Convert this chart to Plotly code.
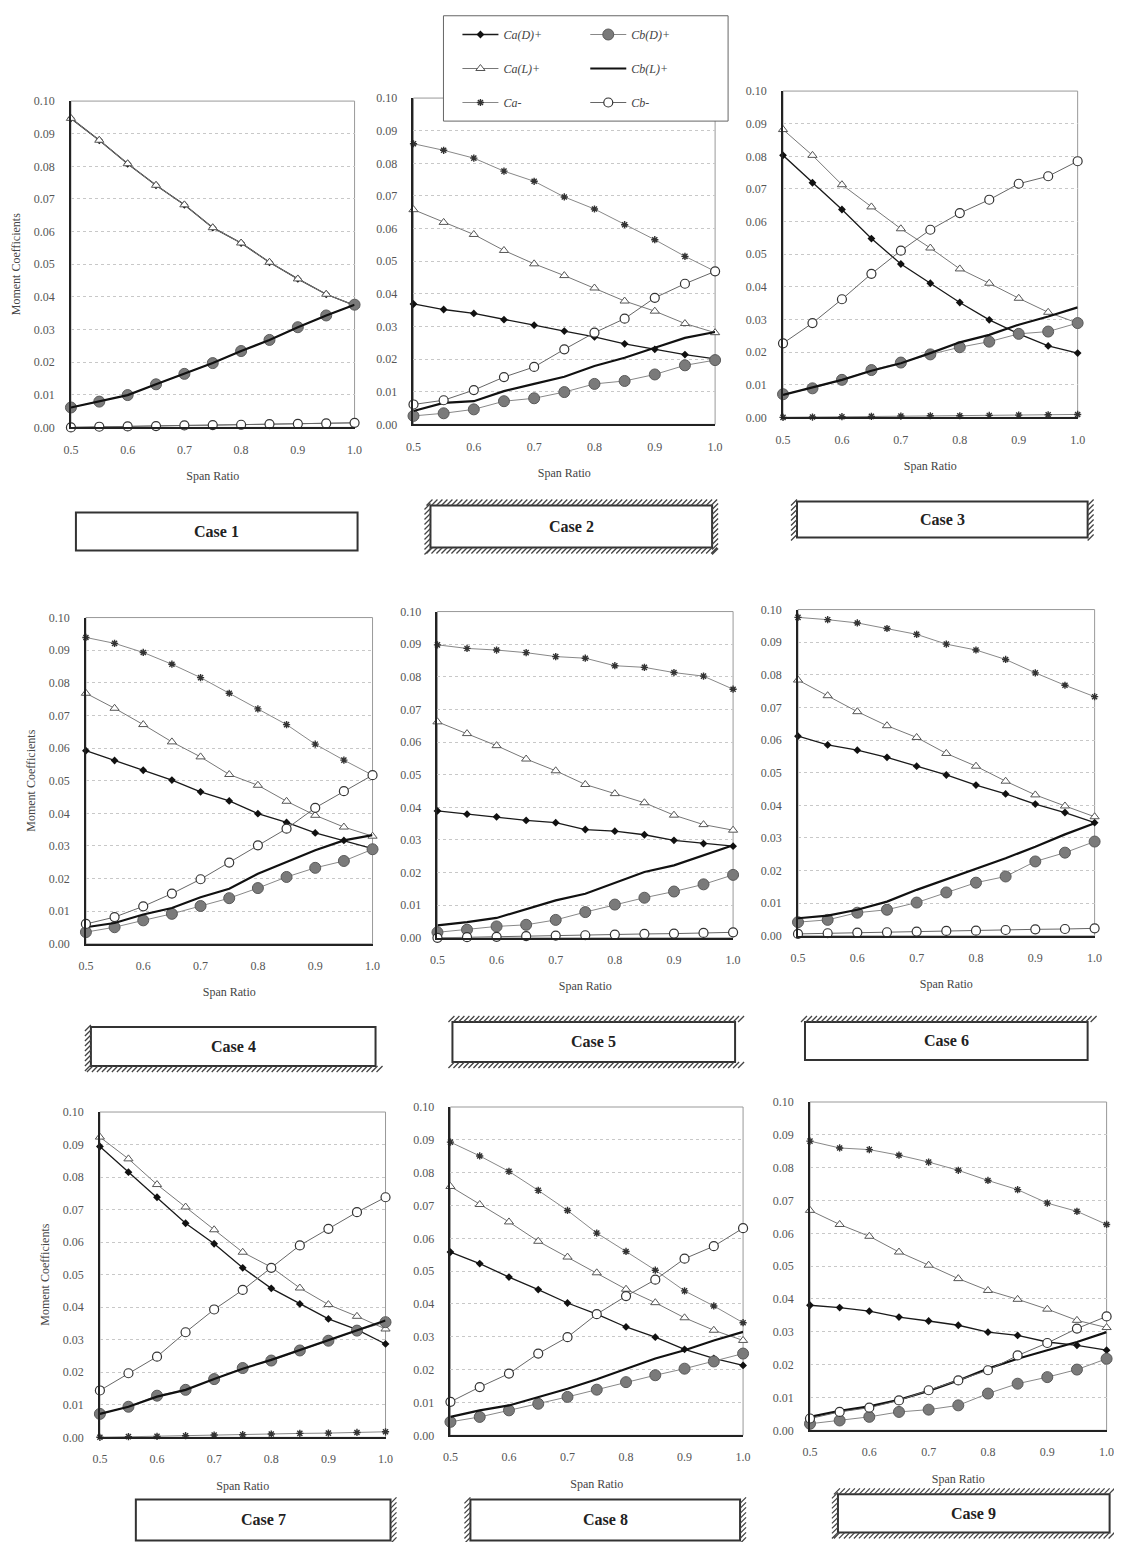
import plotly.graph_objects as go

W, H = 1122, 1542
# empirical page placement of the figure in the photographed window
OFF_X, SC_X = 15.0, 0.987
OFF_Y, SC_Y = 14.0, 0.990

span = [0.5, 0.55, 0.6, 0.65, 0.7, 0.75, 0.8, 0.85, 0.9, 0.95, 1.0]
x_ticks = [0.5, 0.6, 0.7, 0.8, 0.9, 1.0]
y_ticks = [0.00, 0.01, 0.02, 0.03, 0.04, 0.05, 0.06, 0.07, 0.08, 0.09, 0.10]
case_names = ["Case 1", "Case 2", "Case 3", "Case 4", "Case 5", "Case 6", "Case 7", "Case 8", "Case 9"]
series_names = ["Ca(D)+", "Ca(L)+", "Ca-", "Cb(D)+", "Cb(L)+", "Cb-"]

# ---- Case 1 ----
c1_CaD = [0.0947, 0.0880, 0.0808, 0.0742, 0.0682, 0.0612, 0.0565, 0.0506, 0.0455, 0.0408, 0.0374]
c1_CaL = [0.0947, 0.0880, 0.0808, 0.0742, 0.0682, 0.0612, 0.0565, 0.0506, 0.0455, 0.0408, 0.0374]
c1_Can = [0.0000, 0.0002, 0.0003, 0.0004, 0.0006, 0.0007, 0.0008, 0.0010, 0.0011, 0.0012, 0.0014]
c1_CbD = [0.0061, 0.0079, 0.0099, 0.0132, 0.0164, 0.0197, 0.0234, 0.0268, 0.0307, 0.0343, 0.0376]
c1_CbL = [0.0061, 0.0079, 0.0099, 0.0132, 0.0164, 0.0197, 0.0234, 0.0268, 0.0307, 0.0343, 0.0376]
c1_Cbn = [0.0000, 0.0002, 0.0003, 0.0004, 0.0006, 0.0007, 0.0008, 0.0010, 0.0011, 0.0012, 0.0014]

# ---- Case 2 ----
c2_CaD = [0.0369, 0.0352, 0.0340, 0.0321, 0.0304, 0.0286, 0.0268, 0.0247, 0.0230, 0.0214, 0.0201]
c2_CaL = [0.0658, 0.0619, 0.0582, 0.0533, 0.0492, 0.0456, 0.0418, 0.0378, 0.0347, 0.0309, 0.0281]
c2_Can = [0.0860, 0.0840, 0.0816, 0.0776, 0.0745, 0.0697, 0.0660, 0.0612, 0.0566, 0.0515, 0.0469]
c2_CbD = [0.0026, 0.0034, 0.0046, 0.0071, 0.0080, 0.0099, 0.0124, 0.0133, 0.0153, 0.0181, 0.0197]
c2_CbL = [0.0041, 0.0066, 0.0071, 0.0102, 0.0124, 0.0146, 0.0179, 0.0204, 0.0235, 0.0265, 0.0283]
c2_Cbn = [0.0061, 0.0074, 0.0105, 0.0145, 0.0176, 0.0230, 0.0281, 0.0324, 0.0388, 0.0431, 0.0469]

# ---- Case 3 ----
c3_CaD = [0.0803, 0.0719, 0.0637, 0.0548, 0.0470, 0.0411, 0.0352, 0.0299, 0.0256, 0.0219, 0.0197]
c3_CaL = [0.0882, 0.0803, 0.0713, 0.0645, 0.0578, 0.0519, 0.0455, 0.0411, 0.0365, 0.0322, 0.0289]
c3_Can = [0.0000, 0.0001, 0.0002, 0.0003, 0.0004, 0.0005, 0.0005, 0.0006, 0.0007, 0.0008, 0.0009]
c3_CbD = [0.0071, 0.0089, 0.0115, 0.0145, 0.0168, 0.0193, 0.0215, 0.0232, 0.0256, 0.0263, 0.0289]
c3_CbL = [0.0069, 0.0092, 0.0115, 0.0143, 0.0166, 0.0197, 0.0230, 0.0253, 0.0284, 0.0309, 0.0337]
c3_Cbn = [0.0227, 0.0289, 0.0362, 0.0440, 0.0511, 0.0575, 0.0626, 0.0667, 0.0716, 0.0739, 0.0785]

# ---- Case 4 ----
c4_CaD = [0.0592, 0.0562, 0.0532, 0.0502, 0.0466, 0.0438, 0.0399, 0.0372, 0.0340, 0.0317, 0.0292]
c4_CaL = [0.0768, 0.0722, 0.0672, 0.0619, 0.0573, 0.0519, 0.0486, 0.0437, 0.0394, 0.0358, 0.0330]
c4_Can = [0.0939, 0.0921, 0.0893, 0.0857, 0.0816, 0.0768, 0.0720, 0.0672, 0.0612, 0.0563, 0.0517]
c4_CbD = [0.0036, 0.0051, 0.0072, 0.0092, 0.0116, 0.0140, 0.0171, 0.0205, 0.0233, 0.0254, 0.0290]
c4_CbL = [0.0051, 0.0064, 0.0090, 0.0110, 0.0143, 0.0169, 0.0215, 0.0251, 0.0287, 0.0317, 0.0333]
c4_Cbn = [0.0061, 0.0082, 0.0115, 0.0154, 0.0198, 0.0249, 0.0302, 0.0353, 0.0417, 0.0468, 0.0517]

# ---- Case 5 ----
c5_CaD = [0.0389, 0.0379, 0.0371, 0.0360, 0.0353, 0.0332, 0.0327, 0.0316, 0.0299, 0.0289, 0.0281]
c5_CaL = [0.0662, 0.0626, 0.0589, 0.0548, 0.0512, 0.0470, 0.0442, 0.0414, 0.0376, 0.0347, 0.0330]
c5_Can = [0.0898, 0.0887, 0.0882, 0.0874, 0.0862, 0.0857, 0.0834, 0.0829, 0.0813, 0.0802, 0.0762]
c5_CbD = [0.0017, 0.0025, 0.0035, 0.0040, 0.0055, 0.0079, 0.0102, 0.0123, 0.0142, 0.0164, 0.0193]
c5_CbL = [0.0038, 0.0048, 0.0061, 0.0087, 0.0115, 0.0135, 0.0168, 0.0202, 0.0222, 0.0253, 0.0284]
c5_Cbn = [0.0000, 0.0002, 0.0003, 0.0005, 0.0007, 0.0008, 0.0010, 0.0012, 0.0013, 0.0015, 0.0017]

# ---- Case 6 ----
c6_CaD = [0.0612, 0.0585, 0.0569, 0.0547, 0.0520, 0.0493, 0.0462, 0.0435, 0.0404, 0.0378, 0.0347]
c6_CaL = [0.0784, 0.0736, 0.0687, 0.0644, 0.0608, 0.0559, 0.0520, 0.0474, 0.0432, 0.0398, 0.0365]
c6_Can = [0.0976, 0.0969, 0.0959, 0.0942, 0.0924, 0.0894, 0.0876, 0.0847, 0.0806, 0.0768, 0.0733]
c6_CbD = [0.0042, 0.0049, 0.0071, 0.0080, 0.0102, 0.0133, 0.0163, 0.0182, 0.0228, 0.0255, 0.0289]
c6_CbL = [0.0054, 0.0062, 0.0080, 0.0105, 0.0141, 0.0173, 0.0204, 0.0238, 0.0273, 0.0311, 0.0345]
c6_Cbn = [0.0006, 0.0008, 0.0010, 0.0011, 0.0013, 0.0015, 0.0016, 0.0018, 0.0020, 0.0021, 0.0023]

# ---- Case 7 ----
c7_CaD = [0.0894, 0.0815, 0.0738, 0.0658, 0.0595, 0.0521, 0.0458, 0.0410, 0.0364, 0.0331, 0.0287]
c7_CaL = [0.0923, 0.0856, 0.0777, 0.0708, 0.0638, 0.0569, 0.0523, 0.0459, 0.0408, 0.0372, 0.0333]
c7_Can = [0.0000, 0.0002, 0.0003, 0.0005, 0.0007, 0.0008, 0.0010, 0.0012, 0.0013, 0.0015, 0.0017]
c7_CbD = [0.0072, 0.0094, 0.0128, 0.0146, 0.0179, 0.0213, 0.0236, 0.0267, 0.0297, 0.0328, 0.0354]
c7_CbL = [0.0072, 0.0094, 0.0125, 0.0146, 0.0179, 0.0211, 0.0238, 0.0268, 0.0299, 0.0330, 0.0359]
c7_Cbn = [0.0144, 0.0197, 0.0248, 0.0323, 0.0393, 0.0453, 0.0521, 0.0590, 0.0641, 0.0692, 0.0738]

# ---- Case 8 ----
c8_CaD = [0.0558, 0.0523, 0.0482, 0.0444, 0.0403, 0.0369, 0.0330, 0.0299, 0.0262, 0.0234, 0.0213]
c8_CaL = [0.0758, 0.0703, 0.0650, 0.0591, 0.0543, 0.0495, 0.0445, 0.0404, 0.0358, 0.0320, 0.0289]
c8_Can = [0.0893, 0.0851, 0.0804, 0.0746, 0.0685, 0.0616, 0.0560, 0.0503, 0.0440, 0.0394, 0.0343]
c8_CbD = [0.0041, 0.0056, 0.0076, 0.0096, 0.0117, 0.0139, 0.0162, 0.0183, 0.0203, 0.0225, 0.0249]
c8_CbL = [0.0056, 0.0076, 0.0091, 0.0117, 0.0142, 0.0171, 0.0203, 0.0234, 0.0259, 0.0289, 0.0315]
c8_Cbn = [0.0102, 0.0147, 0.0188, 0.0249, 0.0299, 0.0369, 0.0424, 0.0474, 0.0538, 0.0576, 0.0631]

# ---- Case 9 ----
c9_CaD = [0.0381, 0.0374, 0.0363, 0.0345, 0.0333, 0.0320, 0.0299, 0.0289, 0.0269, 0.0259, 0.0244]
c9_CaL = [0.0670, 0.0627, 0.0591, 0.0543, 0.0503, 0.0462, 0.0426, 0.0399, 0.0369, 0.0335, 0.0313]
c9_Can = [0.0881, 0.0860, 0.0855, 0.0838, 0.0817, 0.0792, 0.0761, 0.0733, 0.0692, 0.0667, 0.0627]
c9_CbD = [0.0020, 0.0030, 0.0041, 0.0056, 0.0063, 0.0076, 0.0112, 0.0142, 0.0162, 0.0185, 0.0218]
c9_CbL = [0.0041, 0.0059, 0.0073, 0.0093, 0.0120, 0.0152, 0.0188, 0.0218, 0.0244, 0.0269, 0.0299]
c9_Cbn = [0.0036, 0.0056, 0.0069, 0.0091, 0.0122, 0.0152, 0.0183, 0.0228, 0.0266, 0.0310, 0.0347]

cases = [
    [c1_CaD, c1_CaL, c1_Can, c1_CbD, c1_CbL, c1_Cbn],
    [c2_CaD, c2_CaL, c2_Can, c2_CbD, c2_CbL, c2_Cbn],
    [c3_CaD, c3_CaL, c3_Can, c3_CbD, c3_CbL, c3_Cbn],
    [c4_CaD, c4_CaL, c4_Can, c4_CbD, c4_CbL, c4_Cbn],
    [c5_CaD, c5_CaL, c5_Can, c5_CbD, c5_CbL, c5_Cbn],
    [c6_CaD, c6_CaL, c6_Can, c6_CbD, c6_CbL, c6_Cbn],
    [c7_CaD, c7_CaL, c7_Can, c7_CbD, c7_CbL, c7_Cbn],
    [c8_CaD, c8_CaL, c8_Can, c8_CbD, c8_CbL, c8_Cbn],
    [c9_CaD, c9_CaL, c9_Can, c9_CbD, c9_CbL, c9_Cbn],
]

# ---------------- layout (page-pixel boxes of each plot area) ----------------
plot_px = [
    (70, 354, 100, 426), (413, 715, 97, 423), (783, 1078, 90, 416),
    (85, 372, 616, 942), (437, 733, 610, 936), (798, 1095, 608, 934),
    (99, 385, 1110, 1435), (450, 743, 1105, 1433), (810, 1107, 1100, 1428),
]
# case label boxes: x0, x1, y0, y1, hatched sides
box_px = [
    (75, 357, 511, 549, ""),
    (430, 712, 504, 546, "tblr"),
    (797, 1088, 500, 536, "lr"),
    (90, 375, 1025, 1064, "lb"),
    (452, 735, 1020, 1060, "tb"),
    (805, 1088, 1020, 1058, "t"),
    (135, 390, 1497, 1538, "r"),
    (470, 740, 1497, 1538, "lr"),
    (838, 1110, 1492, 1530, "tbl"),
]

def px(xp):
    return ((xp - OFF_X) / SC_X) / W

def py(yp):
    return 1 - ((yp - OFF_Y) / SC_Y) / H

SERIF = "Liberation Serif, Times New Roman, serif"

styles = [
    dict(mode="lines+markers", line=dict(color="#1a1a1a", width=1.3),
         marker=dict(symbol="diamond", size=6, color="#111")),
    dict(mode="lines+markers", line=dict(color="#777", width=1),
         marker=dict(symbol="triangle-up", size=8, color="white", line=dict(color="#555", width=1))),
    dict(mode="lines+markers", line=dict(color="#888", width=1),
         marker=dict(symbol="asterisk-open", size=6, color="#333", line=dict(color="#333", width=1.4))),
    dict(mode="lines+markers", line=dict(color="#888", width=1),
         marker=dict(symbol="circle", size=11, color="#7a7a7a", line=dict(color="#5a5a5a", width=1))),
    dict(mode="lines", line=dict(color="#111", width=2.2)),
    dict(mode="lines+markers", line=dict(color="#666", width=1),
         marker=dict(symbol="circle", size=9, color="white", line=dict(color="#333", width=1.2))),
]

fig = go.Figure()

for ci, series in enumerate(cases):
    k = ci + 1
    xa = "x" if k == 1 else f"x{k}"
    ya = "y" if k == 1 else f"y{k}"
    for si, vals in enumerate(series):
        st = styles[si]
        fig.add_trace(go.Scatter(
            x=span, y=vals, xaxis=xa, yaxis=ya,
            name=f"<i>{series_names[si]}</i>",
            legendgroup=series_names[si],
            legend="legend" if si < 3 else "legend2",
            showlegend=(ci == 0), cliponaxis=False, **st))

shapes = []
annotations = []
layout_axes = {}
for ci, (x0, x1, y0, y1) in enumerate(plot_px):
    k = ci + 1
    xk = "xaxis" if k == 1 else f"xaxis{k}"
    yk = "yaxis" if k == 1 else f"yaxis{k}"
    xa = "x" if k == 1 else f"x{k}"
    ya = "y" if k == 1 else f"y{k}"
    layout_axes[xk] = dict(
        domain=[px(x0), px(x1)], anchor=ya, range=[0.5, 1.0],
        tickvals=x_ticks, ticktext=[f"{v:.1f}" for v in x_ticks],
        showgrid=False, zeroline=False, showline=True, linecolor="#222", linewidth=1.5,
        ticks="", ticklabelstandoff=10, tickfont=dict(family=SERIF, size=12, color="#555"),
        title=dict(text="Span Ratio", font=dict(family=SERIF, size=12, color="#444"), standoff=16),
    )
    layout_axes[yk] = dict(
        domain=[py(y1), py(y0)], anchor=xa, range=[0, 0.1],
        tickvals=y_ticks, ticktext=[f"{v:.2f}" for v in y_ticks],
        showgrid=True, gridcolor="#c8c8c8", griddash="dot", gridwidth=1,
        zeroline=False, showline=True, linecolor="#222", linewidth=1.5,
        ticks="", ticklabelstandoff=12, tickfont=dict(family=SERIF, size=12, color="#555"),
        title=dict(text="Moment Coefficients" if k in (1, 4, 7) else "",
                   font=dict(family=SERIF, size=12, color="#444"), standoff=11),
    )
    shapes.append(dict(type="rect", xref=f"{xa} domain", yref=f"{ya} domain",
                       x0=0, x1=1, y0=0, y1=1, line=dict(color="#999", width=1), layer="below"))

# case label boxes with hatching
for ci, (x0, x1, y0, y1, sides) in enumerate(box_px):
    shapes.append(dict(type="rect", xref="paper", yref="paper",
                       x0=px(x0), x1=px(x1), y0=py(y1), y1=py(y0),
                       line=dict(color="#333", width=2)))
    segs = []
    step = 5
    hl = 6
    for side in ("t", "b"):
        if side not in sides:
            continue
        yb = y0 if side == "t" else y1 + hl
        xs = x0 - 4
        while xs < x1 + 4:
            segs.append(f"M{px(xs):.5f},{py(yb):.5f} L{px(xs + hl):.5f},{py(yb - hl):.5f}")
            xs += step
    for side in ("l", "r"):
        if side not in sides:
            continue
        xb = x0 - hl if side == "l" else x1
        ys = y0 - 2
        while ys < y1 + 2:
            segs.append(f"M{px(xb):.5f},{py(ys + hl):.5f} L{px(xb + hl):.5f},{py(ys):.5f}")
            ys += step
    if segs:
        shapes.append(dict(type="path", xref="paper", yref="paper", path=" ".join(segs),
                           line=dict(color="#444", width=1.3)))
    annotations.append(dict(xref="paper", yref="paper", x=px((x0 + x1) / 2), y=py((y0 + y1) / 2),
                            text=f"<b>{case_names[ci]}</b>", showarrow=False,
                            font=dict(family=SERIF, size=16, color="#222"),
                            xanchor="center", yanchor="middle"))

# legend frame
shapes.append(dict(type="rect", xref="paper", yref="paper",
                   x0=px(443), x1=px(728), y0=py(120), y1=min(py(12), 0.9995),
                   line=dict(color="#666", width=1), fillcolor="white", layer="below"))

leg_common = dict(bgcolor="rgba(0,0,0,0)", borderwidth=0, orientation="v",
                  font=dict(family=SERIF, size=12, color="#444"),
                  tracegroupgap=15, itemwidth=36, yanchor="top", xanchor="left")

fig.update_layout(
    width=W, height=H, margin=dict(l=0, r=0, t=0, b=0),
    paper_bgcolor="white", plot_bgcolor="white",
    shapes=shapes, annotations=annotations,
    legend=dict(x=px(457), y=py(19), **leg_common),
    legend2=dict(x=px(585), y=py(19), **leg_common),
    **layout_axes,
)

fig.write_html("out.html")
